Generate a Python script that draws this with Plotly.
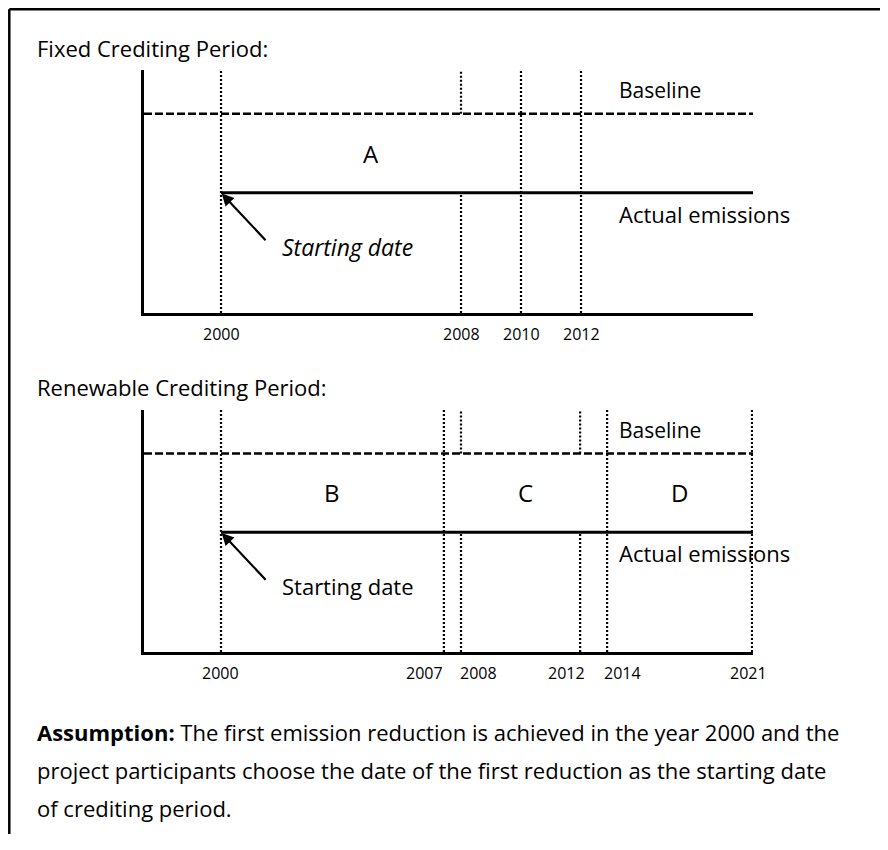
import plotly.graph_objects as go

# ---------------- data ----------------
fixed_title = "Fixed Crediting Period:"
renew_title = "Renewable Crediting Period:"

fixed_years = [2000, 2008, 2010, 2012]      # dotted reference years (fixed period chart)
fixed_gap_years = [2008]                     # dotted lines interrupted between the levels
fixed_period = (2000, 2010)
fixed_label = "A"

renew_years = [2000, 2007, 2008, 2012, 2014, 2021]
renew_gap_years = [2008, 2012]
renew_periods = [(2000, 2007), (2007, 2014), (2014, 2021)]
renew_labels = ["B", "C", "D"]

start_year = 2000
baseline_level = 8.2
actual_level = 4.95

assumption_lines = [
    "<b>Assumption:</b> The first emission reduction is achieved in the year 2000 and the",
    "project participants choose the date of the first reduction as the starting date",
    "of crediting period.",
]

# ---------------- layout helpers ----------------
FONT = "Open Sans"
OFF = 8                      # page body margin of the html page
FIG_W, FIG_H = 888 - OFF, 826
X_RANGE = [1997.4333, 2017.7333]
Y_RANGE = [0, 10]

# the renewable chart is drawn not to scale: horizontal placement of its years
RENEW_X = {2000: 2000.0, 2007: 2007.43, 2008: 2008.0, 2012: 2011.97,
           2014: 2012.87, 2021: 2017.7}
# tick-label anchoring for the renewable chart (anchor, pixel shift)
RENEW_TICK_STYLE = {2000: ("center", -1), 2007: ("right", 1), 2008: ("left", -3),
                    2012: ("right", 7), 2014: ("left", -5), 2021: ("center", -4)}


def py(px):
    return 1 - (px - OFF) / FIG_H


def px_x(px):
    return (px - OFF) / FIG_W


fig = go.Figure()

DOT = dict(color="black", width=2.2, dash="2px,2px")


def add_panel(xa, ya, years, gap_years, xmap, periods, labels, italic_start):
    xs, ys = [], []
    for yr in years:
        x = xmap(yr)
        if yr in gap_years:
            xs += [x, x, None, x, x, None]
            ys += [Y_RANGE[0], actual_level, None, baseline_level, Y_RANGE[1], None]
        else:
            xs += [x, x, None]
            ys += [Y_RANGE[0], Y_RANGE[1], None]
    fig.add_trace(go.Scatter(x=xs, y=ys, mode="lines", line=DOT,
                             xaxis=xa, yaxis=ya, hoverinfo="skip"))
    fig.add_trace(go.Scatter(x=X_RANGE, y=[baseline_level, baseline_level], mode="lines",
                             line=dict(color="black", width=2.4, dash="8px,3px"),
                             xaxis=xa, yaxis=ya, hoverinfo="skip"))
    fig.add_trace(go.Scatter(x=[xmap(start_year), X_RANGE[1]], y=[actual_level, actual_level],
                             mode="lines", line=dict(color="black", width=3),
                             xaxis=xa, yaxis=ya, hoverinfo="skip"))
    xr, yr_ref = xa, ya
    mid_level = (baseline_level + actual_level) / 2
    for (a, b), lab in zip(periods, labels):
        fig.add_annotation(x=(xmap(a) + xmap(b)) / 2, y=mid_level, xref=xr, yref=yr_ref,
                           text=lab, showarrow=False,
                           font=dict(family=FONT, size=24, color="black"))
    fig.add_annotation(x=xmap(start_year), y=actual_level, xref=xr, yref=yr_ref,
                       ax=46, ay=49, text="", showarrow=True, arrowhead=2,
                       arrowsize=1.1, arrowwidth=2.2, arrowcolor="black", standoff=1)
    txt = "<i>Starting date</i>" if italic_start else "Starting date"
    fig.add_annotation(x=xmap(start_year), y=actual_level, xref=xr, yref=yr_ref,
                       text=txt, showarrow=False, xanchor="left", yanchor="middle",
                       xshift=59, yshift=-54,
                       font=dict(family=FONT, size=23 if italic_start else 22, color="black"))
    fig.add_annotation(x=px_x(617), y=baseline_level, xref="paper", yref=yr_ref,
                       text="Baseline", showarrow=False, xanchor="left", yanchor="middle",
                       yshift=24, font=dict(family=FONT, size=21, color="black"))
    fig.add_annotation(x=px_x(617), y=actual_level, xref="paper", yref=yr_ref,
                       text="Actual emissions", showarrow=False, xanchor="left",
                       yanchor="middle", yshift=-21,
                       font=dict(family=FONT, size=22, color="black"))


add_panel("x", "y", fixed_years, fixed_gap_years, lambda v: v,
          [fixed_period], [fixed_label], True)
add_panel("x2", "y2", renew_years, renew_gap_years, lambda v: RENEW_X[v],
          renew_periods, renew_labels, False)

for yr in fixed_years:
    fig.add_annotation(x=yr, y=py(334), xref="x", yref="paper", text=str(yr),
                       showarrow=False, xanchor="center", yanchor="middle",
                       font=dict(family=FONT, size=16, color="black"))
for yr in renew_years:
    anc, sh = RENEW_TICK_STYLE[yr]
    fig.add_annotation(x=RENEW_X[yr], y=py(673), xref="x2", yref="paper", text=str(yr),
                       showarrow=False, xanchor=anc, xshift=sh, yanchor="middle",
                       font=dict(family=FONT, size=16, color="black"))

fig.add_annotation(x=px_x(35), y=py(48), xref="paper", yref="paper", text=fixed_title,
                   showarrow=False, xanchor="left", yanchor="middle",
                   font=dict(family=FONT, size=22, color="black"))
fig.add_annotation(x=px_x(35), y=py(387), xref="paper", yref="paper", text=renew_title,
                   showarrow=False, xanchor="left", yanchor="middle",
                   font=dict(family=FONT, size=22, color="black"))

for i, line in enumerate(assumption_lines):
    fig.add_annotation(x=px_x(35), y=py(732 + 38 * i), xref="paper", yref="paper",
                       text=line, showarrow=False, xanchor="left", yanchor="middle",
                       font=dict(family=FONT, size=22, color="black"))

# page frame (left, top, right)
FRAME = dict(color="black", width=2.5)
fig.add_shape(type="line", xref="paper", yref="paper",
              x0=px_x(9.3), x1=px_x(886), y0=py(9.3), y1=py(9.3), line=FRAME)
fig.add_shape(type="line", xref="paper", yref="paper",
              x0=px_x(9.3), x1=px_x(9.3), y0=py(9.3), y1=-0.05, line=FRAME)
fig.add_shape(type="line", xref="paper", yref="paper",
              x0=px_x(885.5), x1=px_x(885.5), y0=py(9.3), y1=-0.05,
              line=dict(color="#555", width=1.2))

axis_x = dict(range=X_RANGE, showgrid=False, zeroline=False, showticklabels=False,
              ticks="", showline=True, linecolor="black", linewidth=3, fixedrange=True)
axis_y = dict(range=Y_RANGE, showgrid=False, zeroline=False, showticklabels=False,
              ticks="", showline=True, linecolor="black", linewidth=3, fixedrange=True)

fig.update_layout(
    width=FIG_W, height=FIG_H, autosize=False,
    margin=dict(l=0, r=0, t=0, b=0),
    paper_bgcolor="white", plot_bgcolor="white",
    showlegend=False,
    xaxis=dict(axis_x, domain=[px_x(144), px_x(753)], anchor="y"),
    yaxis=dict(axis_y, domain=[py(313), py(70)], anchor="x"),
    xaxis2=dict(axis_x, domain=[px_x(144), px_x(753)], anchor="y2"),
    yaxis2=dict(axis_y, domain=[py(652), py(410)], anchor="x2"),
)

fig.write_html("out.html")
